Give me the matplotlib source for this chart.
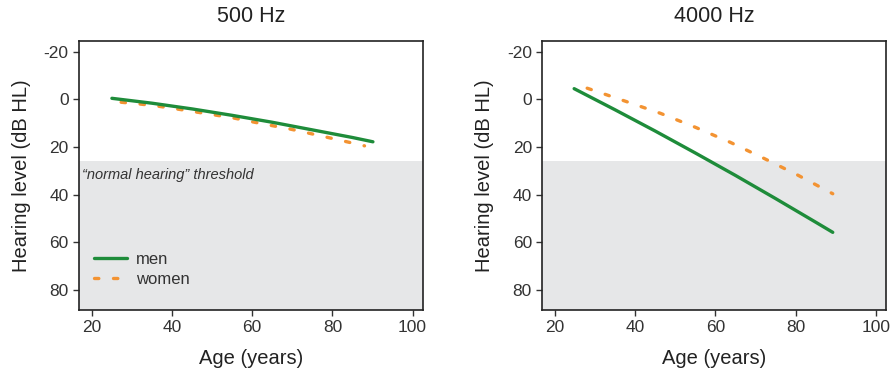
import numpy as np
import matplotlib.pyplot as plt

plt.rcParams['font.family'] = ['Liberation Sans', 'DejaVu Sans']
plt.rcParams['axes.unicode_minus'] = False

# 500 Hz
age_men_500 = [25, 35, 45, 55, 65, 75, 85, 90.1]
hl_men_500 = [-0.45, 1.6, 4.0, 6.7, 9.6, 12.8, 16.0, 17.8]
age_women_500 = [27.3, 32.0, 36.7, 41.3, 46.0, 50.7, 55.3, 60.0, 64.6, 69.3, 73.9, 78.4, 83.1, 88.0]
hl_women_500 = [1.2, 1.95, 2.9, 4.05, 5.3, 6.55, 7.8, 9.4, 10.9, 12.4, 14.1, 15.8, 17.6, 19.5]

# 4000 Hz
age_men_4000 = [24.75, 35, 45, 55, 65, 75, 85, 89.3]
hl_men_4000 = [-4.5, 4.4, 13.3, 22.5, 31.9, 41.6, 51.5, 55.8]
age_women_4000 = [28.0, 36.9, 46.3, 55.0, 63.7, 72.3, 80.7, 89.3]
hl_women_4000 = [-4.7, 0.4, 5.85, 11.7, 18.0, 24.9, 31.9, 39.6]

threshold = 26
titles = ["500 Hz", "4000 Hz"]

green = '#1e8c3a'
orange = '#f39332'
grey = '#e6e7e8'
txt = '#333333'

fig = plt.figure(figsize=(8.94, 3.77), dpi=100)
ax1 = fig.add_axes([0.0884, 0.1777, 0.3848, 0.7135])
ax2 = fig.add_axes([0.6066, 0.1777, 0.3845, 0.7135])

panels = [
    (ax1, age_men_500, hl_men_500, age_women_500, hl_women_500),
    (ax2, age_men_4000, hl_men_4000, age_women_4000, hl_women_4000),
]

for i, (ax, xm, ym, xw, yw) in enumerate(panels):
    ax.set_xlim(16.8, 102.6)
    ax.set_ylim(88.4, -24.5)
    ax.axhspan(threshold, 100, color=grey, lw=0, zorder=0)
    ax.plot(xm, ym, color=green, lw=2.4, label='men', solid_capstyle='round', zorder=3)
    ax.plot(xw, yw, color=orange, lw=2.4, ls=(0, (1.3, 4.4)), label='women',
            dash_capstyle='round', zorder=2)
    ax.set_xticks([20, 40, 60, 80, 100])
    ax.set_yticks([-20, 0, 20, 40, 60, 80])
    ax.tick_params(direction='out', length=4, width=1, labelsize=12.5, colors=txt)
    for s in ax.spines.values():
        s.set_linewidth(1.2)
        s.set_color('#222222')
    ax.set_title(titles[i], fontsize=15.5, color='#222222', pad=14)
    ax.set_xlabel('Age (years)', fontsize=14.5, color='#222222', labelpad=10)
    ax.set_ylabel('Hearing level (dB HL)', fontsize=14.5, color='#222222', labelpad=9)

ax1.text(17.6, 31.7, '\u201cnormal hearing\u201d threshold', style='italic',
         fontsize=10.5, color='#333333', va='center', ha='left')
ax1.legend(loc='lower left', bbox_to_anchor=(0.0, 0.03), frameon=False,
           fontsize=12, handlelength=2.0, handletextpad=0.5, labelspacing=0.3,
           labelcolor=txt)

fig.savefig('out.png', dpi=100)
